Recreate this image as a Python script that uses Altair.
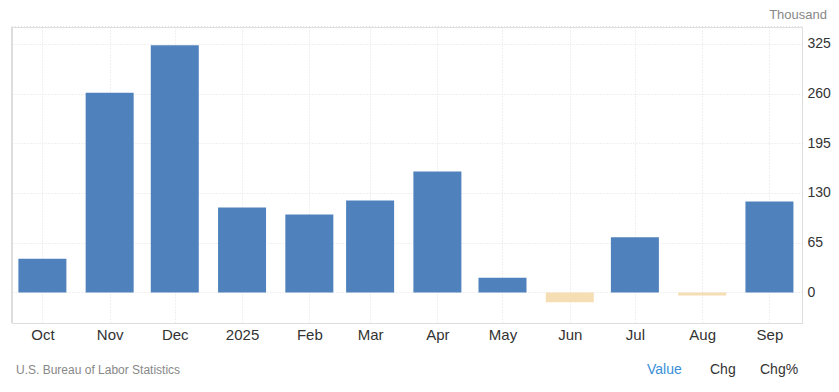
import altair as alt
import pandas as pd

months = ["2024-10-01", "2024-11-01", "2024-12-01", "2025-01-01", "2025-02-01", "2025-03-01",
          "2025-04-01", "2025-05-01", "2025-06-01", "2025-07-01", "2025-08-01", "2025-09-01"]
values = [44, 261, 323, 111, 102, 120, 158, 19, -13, 72, -4, 119]
y_ticks = [0, 65, 130, 195, 260, 325]
unit_label = "Thousand"
source_label = "U.S. Bureau of Labor Statistics"
buttons = ["Value", "Chg", "Chg%"]

W, H = 790, 296
df = pd.DataFrame({"date": months, "value": values})

tick_vals = [alt.DateTime(year=int(m[:4]), month=int(m[5:7]), date=1, utc=True) for m in months]

x = alt.X("date:T",
          scale=alt.Scale(type="utc", padding=0,
                          domain=[alt.DateTime(year=2024, month=9, date=17, utc=True),
                                  alt.DateTime(year=2025, month=9, date=16, utc=True)]),
          axis=alt.Axis(values=tick_vals, title=None, ticks=False, domain=True,
                        domainColor="#dddddd", labelPadding=4, labelFontSize=15,
                        labelColor="#333333", labelFont="Liberation Sans",
                        grid=True, gridColor="#e0e0e0", gridDash=[1, 2],
                        labelExpr="utcFormat(datum.value, '%m') == '01' ? utcFormat(datum.value, '%Y') : utcFormat(datum.value, '%b')"))
y = alt.Y("value:Q",
          scale=alt.Scale(domain=[-40, 347], nice=False, zero=False),
          axis=alt.Axis(orient="right", values=y_ticks, title=None, ticks=False,
                        domain=True, domainColor="#dddddd", labelPadding=5,
                        labelFontSize=14, labelColor="#333333", labelFont="Liberation Sans",
                        grid=True, gridColor="#e0e0e0", gridDash=[1, 2]))

bars = alt.Chart(df).mark_bar(size=48).encode(
    x=x, y=y,
    color=alt.condition(alt.datum.value < 0, alt.value("#f5deb3"), alt.value("#4f81bd")),
)

left_border = alt.Chart(df).mark_rule(color="#dddddd").encode(
    x=alt.value(0), y=alt.value(0), y2=alt.value(H))
top_border = alt.Chart(df).mark_rule(color="#e0e0e0", strokeDash=[1, 2]).encode(
    x=alt.value(0), x2=alt.value(W), y=alt.value(0))

unit_text = alt.Chart(pd.DataFrame({"t": [unit_label]})).mark_text(
    align="right", baseline="middle", fontSize=13, color="#888888", font="Liberation Sans"
).encode(text="t:N", x=alt.value(W + 25), y=alt.value(-12))

src_text = alt.Chart(pd.DataFrame({"t": [source_label]})).mark_text(
    align="left", baseline="middle", fontSize=12, color="#888888", font="Liberation Sans"
).encode(text="t:N", x=alt.value(4), y=alt.value(343))

btn_df = pd.DataFrame({"t": buttons, "px": [635, 698, 748],
                       "c": ["#3a8fd8", "#333333", "#333333"]})
btn_text = alt.Chart(btn_df).mark_text(
    align="left", baseline="middle", fontSize=14, font="Liberation Sans"
).encode(text="t:N", x=alt.X("px:Q", scale=None), y=alt.value(343),
         color=alt.Color("c:N", scale=None))

chart = alt.layer(bars, left_border, top_border, unit_text, src_text, btn_text).properties(
    width=W, height=H,
    autosize=alt.AutoSizeParams(type="none"),
    padding={"left": 4, "top": 19, "right": 29, "bottom": 56},
).configure_view(stroke=None).configure(background="white")

chart.save("out.html", embed_options={"renderer": "svg", "actions": False})
